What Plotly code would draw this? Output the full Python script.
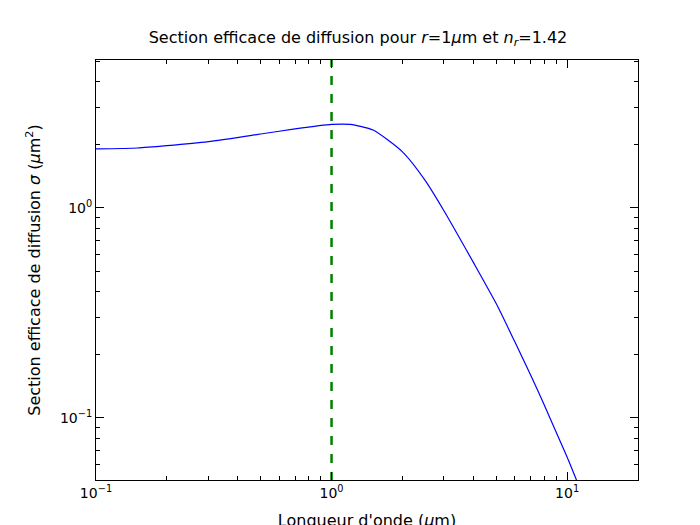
import plotly.graph_objects as go
import numpy as np

wavelength = [0.1, 0.15, 0.2, 0.3, 0.5, 0.7, 1.0, 1.2, 1.5, 2, 2.5, 3, 4, 5, 6, 7, 8, 9, 10, 11]
sigma = [1.91, 1.93, 1.98, 2.07, 2.25, 2.38, 2.50, 2.50, 2.35, 1.85, 1.35, 0.97, 0.55, 0.35, 0.23, 0.16, 0.115, 0.085, 0.065, 0.05]
vline_x = 1.0
x_ticks = [0.1, 1, 10]
x_ticktext = ["10<sup>−1</sup>", "10<sup>0</sup>", "10<sup>1</sup>"]
y_ticks = [0.1, 1]
y_ticktext = ["10<sup>−1</sup>", "10<sup>0</sup>"]
x_minor = [m * d for d in [0.1, 1, 10] for m in range(2, 10)]
y_minor = [m * d for d in [0.01, 0.1, 1] for m in range(2, 10)]

fig = go.Figure()
fig.add_trace(go.Scatter(x=wavelength, y=sigma, mode="lines", line=dict(color="blue", width=1.2, shape="spline", smoothing=0.6), showlegend=False))
fig.add_trace(go.Scatter(x=[vline_x, vline_x], y=[0.05, 5.07], mode="lines", line=dict(color="green", width=2.5, dash="dash"), showlegend=False))

axis_common = dict(type="log", showgrid=False, zeroline=False, showline=True, linecolor="black", linewidth=1,
                   mirror="allticks", ticks="inside", ticklen=8, tickcolor="black", automargin=False,
                   tickfont=dict(family="DejaVu Sans", size=14, color="black"))
fig.update_xaxes(**axis_common, range=[-1, np.log10(20)], tickvals=x_ticks, ticktext=x_ticktext,
                 minor=dict(ticks="inside", ticklen=4, tickcolor="black", tickvals=x_minor),
                 title=dict(text="Longueur d'onde (<i>μ</i>m)", font=dict(family="DejaVu Sans", size=16, color="black")))
fig.update_yaxes(**axis_common, range=[np.log10(0.0505), np.log10(5.07)], tickvals=y_ticks, ticktext=y_ticktext,
                 minor=dict(ticks="inside", ticklen=4, tickcolor="black", tickvals=y_minor),
                 title=dict(text="Section efficace de diffusion <i>σ</i> (<i>μ</i>m<sup>2</sup>)", font=dict(family="DejaVu Sans", size=16, color="black")))
fig.update_layout(
    width=700, height=525, plot_bgcolor="white", paper_bgcolor="white",
    margin=dict(l=88, r=70, t=52, b=53, autoexpand=False),
    title=dict(text="Section efficace de diffusion pour <i>r</i>=1<i>μ</i>m et <i>n<sub>r</sub></i>=1.42",
               x=0.5, xanchor="center", y=0.955, font=dict(family="DejaVu Sans", size=16, color="black")),
)
fig.write_html("out.html")
